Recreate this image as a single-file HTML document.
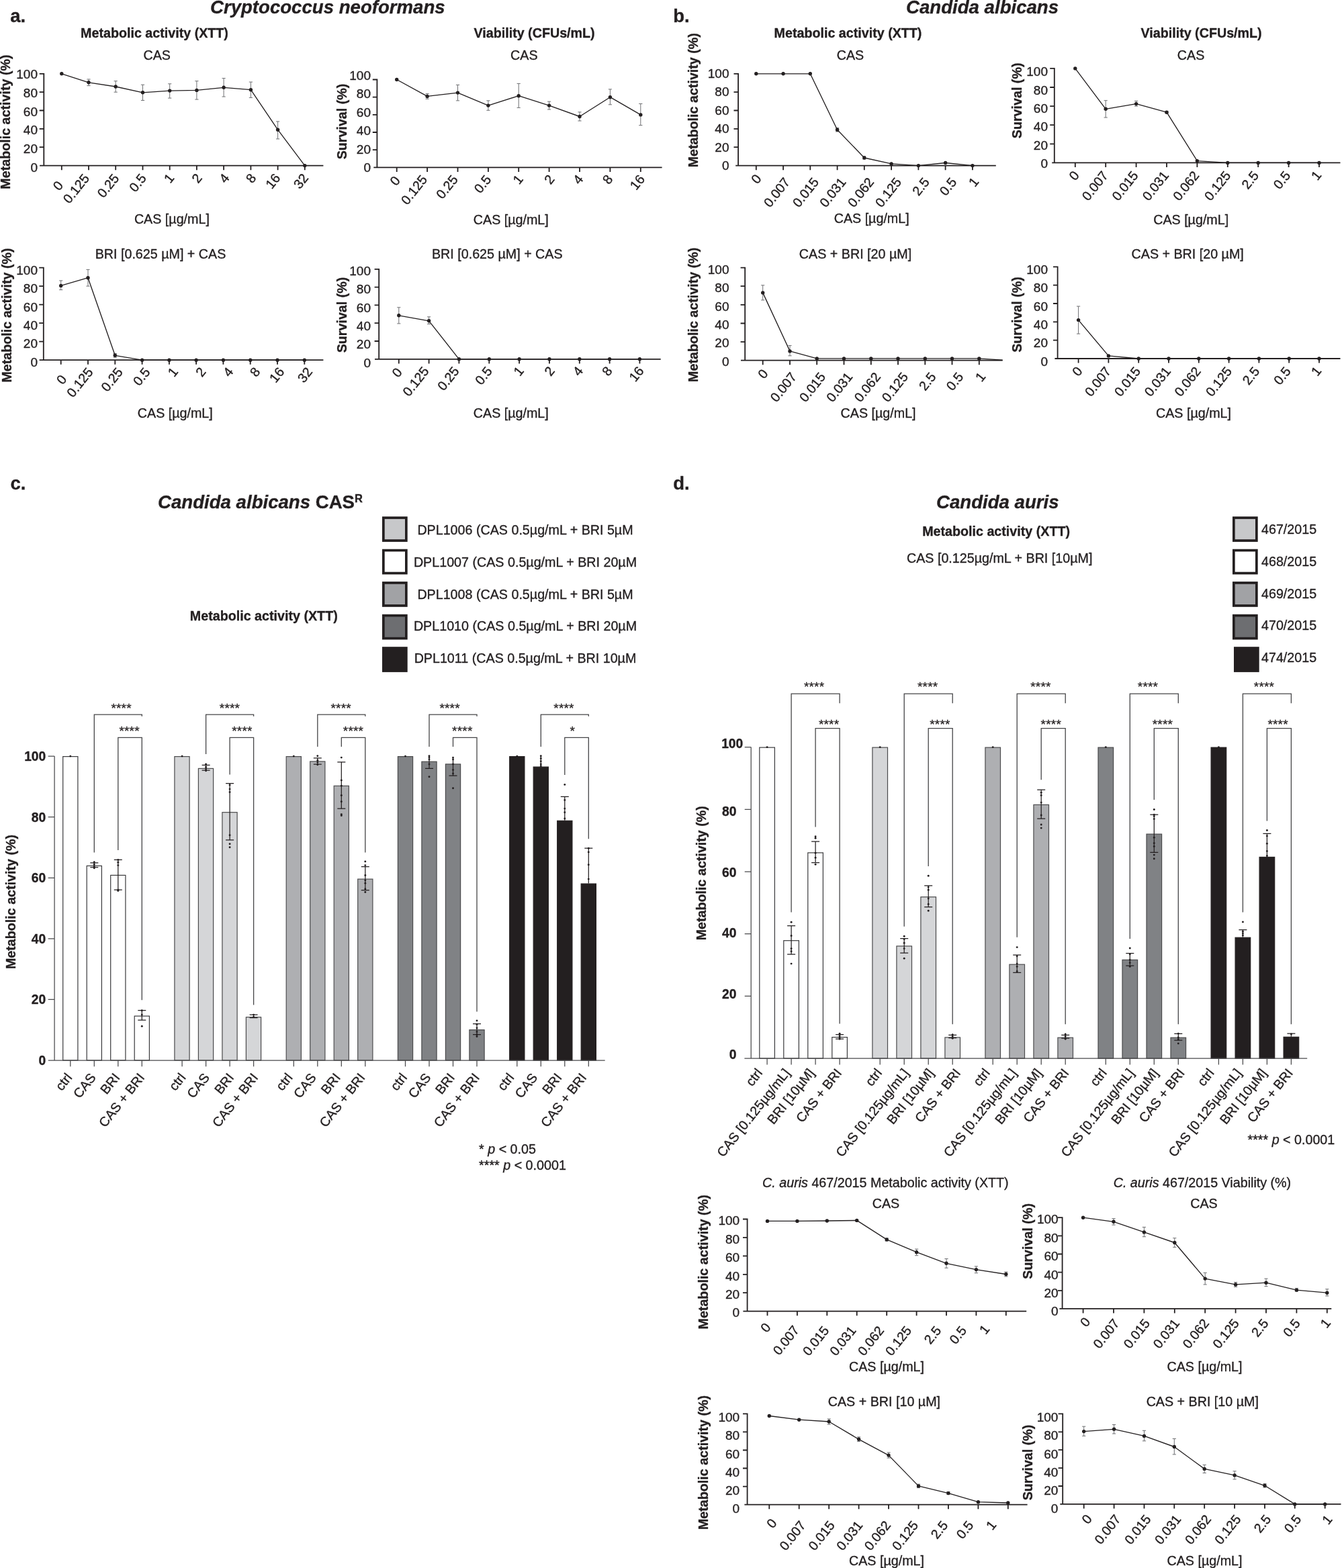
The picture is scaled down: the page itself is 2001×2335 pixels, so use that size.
<!DOCTYPE html>
<html lang="en">
<head>
<meta charset="utf-8">
<title>Figure: caspofungin and brilacidin synergy</title>
<style>
html,body{margin:0;padding:0;background:#fff}
body{width:2001px;height:2335px;overflow:hidden}
svg{display:block}
text{font-family:"Liberation Sans",sans-serif;font-size:19.7px;fill:#231f20;stroke:#231f20;stroke-width:0.35px;stroke-linejoin:round}
circle{fill:#231f20}
.axl{stroke:#231f20;stroke-width:1.8;fill:none}
.dl{stroke:#231f20;stroke-width:1.35;fill:none;stroke-linejoin:round}
.eb{stroke:#6f7073;stroke-width:1;fill:none}
.bax{stroke:#4a4a4c;stroke-width:1.25;fill:none}
.st{font-size:19px;stroke-width:0.3px;letter-spacing:0.2px}
.beb{stroke:#231f20;stroke-width:1.25;fill:none}
.br{stroke:#454547;stroke-width:1.3;fill:none}
</style>
</head>
<body>
<svg width="2001" height="2335" viewBox="0 0 2001 2335" role="img" aria-label="Figure panels a to d">
<rect width="2001" height="2335" fill="#fff"/>
<g id="linecharts">
<path class="eb" d="M132.0 118.0V127.6M129.4 118.0h5.2M129.4 127.6h5.2"/>
<path class="eb" d="M172.2 120.7V137.2M169.6 120.7h5.2M169.6 137.2h5.2"/>
<path class="eb" d="M212.5 126.2V149.5M209.9 126.2h5.2M209.9 149.5h5.2"/>
<path class="eb" d="M252.7 124.8V146.1M250.1 124.8h5.2M250.1 146.1h5.2"/>
<path class="eb" d="M292.9 120.7V148.1M290.3 120.7h5.2M290.3 148.1h5.2"/>
<path class="eb" d="M333.1 116.6V144.0M330.5 116.6h5.2M330.5 144.0h5.2"/>
<path class="eb" d="M373.4 122.1V145.4M370.8 122.1h5.2M370.8 145.4h5.2"/>
<path class="eb" d="M413.6 180.9V206.9M411.0 180.9h5.2M411.0 206.9h5.2"/>
<path class="axl" d="M65.3 108.9V246.6M59.1 246.6H481.4M58.7 219.2H65.3M58.7 191.9H65.3M58.7 164.5H65.3M58.7 137.2H65.3M58.7 109.8H65.3M91.8 246.6v6.6M132.0 246.6v6.6M172.2 246.6v6.6M212.5 246.6v6.6M252.7 246.6v6.6M292.9 246.6v6.6M333.1 246.6v6.6M373.4 246.6v6.6M413.6 246.6v6.6M453.8 246.6v6.6"/>
<path class="dl" d="M91.8 109.8L132.0 122.8L172.2 129.0L212.5 137.8L252.7 135.1L292.9 134.4L333.1 130.3L373.4 133.7L413.6 193.2L453.8 246.6"/>
<circle cx="91.8" cy="109.8" r="2.7"/>
<circle cx="132.0" cy="122.8" r="2.7"/>
<circle cx="172.2" cy="129.0" r="2.7"/>
<circle cx="212.5" cy="137.8" r="2.7"/>
<circle cx="252.7" cy="135.1" r="2.7"/>
<circle cx="292.9" cy="134.4" r="2.7"/>
<circle cx="333.1" cy="130.3" r="2.7"/>
<circle cx="373.4" cy="133.7" r="2.7"/>
<circle cx="413.6" cy="193.2" r="2.7"/>
<circle cx="453.8" cy="246.6" r="2.7"/>
<text x="56.0" y="255.7" text-anchor="end" style="font-size:19.0px">0</text>
<text x="56.0" y="228.0" text-anchor="end" style="font-size:19.0px">20</text>
<text x="56.0" y="200.3" text-anchor="end" style="font-size:19.0px">40</text>
<text x="56.0" y="172.6" text-anchor="end" style="font-size:19.0px">60</text>
<text x="56.0" y="144.9" text-anchor="end" style="font-size:19.0px">80</text>
<text x="56.0" y="117.2" text-anchor="end" style="font-size:19.0px">100</text>
<text transform="translate(95.0,276.5) rotate(-51.5)" text-anchor="end">0</text>
<text transform="translate(134.0,265.8) rotate(-51.5)" text-anchor="end">0.125</text>
<text transform="translate(178.2,265.8) rotate(-51.5)" text-anchor="end">0.25</text>
<text transform="translate(218.9,265.8) rotate(-51.5)" text-anchor="end">0.5</text>
<text transform="translate(260.3,265.4) rotate(-51.5)" text-anchor="end">1</text>
<text transform="translate(301.9,265.4) rotate(-51.5)" text-anchor="end">2</text>
<text transform="translate(342.5,265.4) rotate(-51.5)" text-anchor="end">4</text>
<text transform="translate(382.4,265.4) rotate(-51.5)" text-anchor="end">8</text>
<text transform="translate(418.3,265.4) rotate(-51.5)" text-anchor="end">16</text>
<text transform="translate(460.1,265.4) rotate(-51.5)" text-anchor="end">32</text>
<text x="230.0" y="55.5" text-anchor="middle" font-weight="bold">Metabolic activity (XTT)</text>
<text x="233.7" y="88.7" text-anchor="middle">CAS</text>
<text x="255.9" y="333.3" text-anchor="middle">CAS [µg/mL]</text>
<text transform="translate(15.1,181.6) rotate(-90)" text-anchor="middle" font-weight="bold">Metabolic activity (%)</text>
<path class="eb" d="M636.1 139.4V147.3M633.5 139.4h5.2M633.5 147.3h5.2"/>
<path class="eb" d="M681.5 126.4V149.9M678.9 126.4h5.2M678.9 149.9h5.2"/>
<path class="eb" d="M726.9 149.9V164.3M724.3 149.9h5.2M724.3 164.3h5.2"/>
<path class="eb" d="M772.2 124.4V160.4M769.6 124.4h5.2M769.6 160.4h5.2"/>
<path class="eb" d="M817.6 151.2V163.0M815.0 151.2h5.2M815.0 163.0h5.2"/>
<path class="eb" d="M863.0 166.9V180.0M860.4 166.9h5.2M860.4 180.0h5.2"/>
<path class="eb" d="M908.4 132.9V155.8M905.8 132.9h5.2M905.8 155.8h5.2"/>
<path class="eb" d="M953.8 154.5V186.6M951.2 154.5h5.2M951.2 186.6h5.2"/>
<path class="axl" d="M561.4 117.6V249.4M556.3 249.4H985.6M554.8 223.2H561.4M554.8 197.0H561.4M554.8 170.9H561.4M554.8 144.7H561.4M554.8 118.5H561.4M590.7 249.4v6.6M636.1 249.4v6.6M681.5 249.4v6.6M726.9 249.4v6.6M772.2 249.4v6.6M817.6 249.4v6.6M863.0 249.4v6.6M908.4 249.4v6.6M953.8 249.4v6.6"/>
<path class="dl" d="M590.7 118.5L636.1 143.4L681.5 138.1L726.9 157.1L772.2 142.7L817.6 157.1L863.0 173.5L908.4 144.7L953.8 170.9"/>
<circle cx="590.7" cy="118.5" r="2.7"/>
<circle cx="636.1" cy="143.4" r="2.7"/>
<circle cx="681.5" cy="138.1" r="2.7"/>
<circle cx="726.9" cy="157.1" r="2.7"/>
<circle cx="772.2" cy="142.7" r="2.7"/>
<circle cx="817.6" cy="157.1" r="2.7"/>
<circle cx="863.0" cy="173.5" r="2.7"/>
<circle cx="908.4" cy="144.7" r="2.7"/>
<circle cx="953.8" cy="170.9" r="2.7"/>
<text x="552.0" y="256.0" text-anchor="end" style="font-size:19.0px">0</text>
<text x="552.0" y="228.6" text-anchor="end" style="font-size:19.0px">20</text>
<text x="552.0" y="201.1" text-anchor="end" style="font-size:19.0px">40</text>
<text x="552.0" y="173.7" text-anchor="end" style="font-size:19.0px">60</text>
<text x="552.0" y="146.2" text-anchor="end" style="font-size:19.0px">80</text>
<text x="552.0" y="118.8" text-anchor="end" style="font-size:19.0px">100</text>
<text transform="translate(596.7,269.3) rotate(-51.5)" text-anchor="end">0</text>
<text transform="translate(637.1,267.6) rotate(-51.5)" text-anchor="end">0.125</text>
<text transform="translate(682.7,267.6) rotate(-51.5)" text-anchor="end">0.25</text>
<text transform="translate(732.3,267.6) rotate(-51.5)" text-anchor="end">0.5</text>
<text transform="translate(779.9,267.2) rotate(-51.5)" text-anchor="end">1</text>
<text transform="translate(826.6,267.2) rotate(-51.5)" text-anchor="end">2</text>
<text transform="translate(869.4,267.2) rotate(-51.5)" text-anchor="end">4</text>
<text transform="translate(913.4,267.2) rotate(-51.5)" text-anchor="end">8</text>
<text transform="translate(961.0,267.2) rotate(-51.5)" text-anchor="end">16</text>
<text x="795.6" y="55.5" text-anchor="middle" font-weight="bold">Viability (CFUs/mL)</text>
<text x="780.3" y="88.7" text-anchor="middle">CAS</text>
<text x="760.8" y="333.6" text-anchor="middle">CAS [µg/mL]</text>
<text transform="translate(516.4,181.0) rotate(-90)" text-anchor="middle" font-weight="bold">Survival (%)</text>
<path class="eb" d="M90.7 417.9V431.6M88.1 417.9h5.2M88.1 431.6h5.2"/>
<path class="eb" d="M131.0 401.4V426.1M128.4 401.4h5.2M128.4 426.1h5.2"/>
<path class="eb" d="M171.3 526.6V532.1M168.7 526.6h5.2M168.7 532.1h5.2"/>
<path class="axl" d="M64.8 397.7V536.2M58.6 536.2H481.4M58.2 508.7H64.8M58.2 481.2H64.8M58.2 453.6H64.8M58.2 426.1H64.8M58.2 398.6H64.8M90.7 536.2v6.6M131.0 536.2v6.6M171.3 536.2v6.6M211.6 536.2v6.6M251.9 536.2v6.6M292.1 536.2v6.6M332.4 536.2v6.6M372.7 536.2v6.6M413.0 536.2v6.6M453.3 536.2v6.6"/>
<path class="dl" d="M90.7 425.4L131.0 413.7L171.3 529.3L211.6 536.2L251.9 536.2L292.1 536.2L332.4 536.2L372.7 536.2L413.0 536.2L453.3 536.2"/>
<circle cx="90.7" cy="425.4" r="2.7"/>
<circle cx="131.0" cy="413.7" r="2.7"/>
<circle cx="171.3" cy="529.3" r="2.7"/>
<circle cx="211.6" cy="536.2" r="2.7"/>
<circle cx="251.9" cy="536.2" r="2.7"/>
<circle cx="292.1" cy="536.2" r="2.7"/>
<circle cx="332.4" cy="536.2" r="2.7"/>
<circle cx="372.7" cy="536.2" r="2.7"/>
<circle cx="413.0" cy="536.2" r="2.7"/>
<circle cx="453.3" cy="536.2" r="2.7"/>
<text x="56.0" y="545.6" text-anchor="end" style="font-size:19.0px">0</text>
<text x="56.0" y="518.2" text-anchor="end" style="font-size:19.0px">20</text>
<text x="56.0" y="490.8" text-anchor="end" style="font-size:19.0px">40</text>
<text x="56.0" y="463.5" text-anchor="end" style="font-size:19.0px">60</text>
<text x="56.0" y="436.1" text-anchor="end" style="font-size:19.0px">80</text>
<text x="56.0" y="408.7" text-anchor="end" style="font-size:19.0px">100</text>
<text transform="translate(100.4,565.1) rotate(-51.5)" text-anchor="end">0</text>
<text transform="translate(139.5,554.4) rotate(-51.5)" text-anchor="end">0.125</text>
<text transform="translate(183.8,554.4) rotate(-51.5)" text-anchor="end">0.25</text>
<text transform="translate(224.5,554.4) rotate(-51.5)" text-anchor="end">0.5</text>
<text transform="translate(266.0,554.0) rotate(-51.5)" text-anchor="end">1</text>
<text transform="translate(307.6,554.0) rotate(-51.5)" text-anchor="end">2</text>
<text transform="translate(348.3,554.0) rotate(-51.5)" text-anchor="end">4</text>
<text transform="translate(388.2,554.0) rotate(-51.5)" text-anchor="end">8</text>
<text transform="translate(424.2,554.0) rotate(-51.5)" text-anchor="end">16</text>
<text transform="translate(466.1,554.0) rotate(-51.5)" text-anchor="end">32</text>
<text x="239.0" y="384.5" text-anchor="middle">BRI [0.625 µM] + CAS</text>
<text x="260.8" y="621.5" text-anchor="middle">CAS [µg/mL]</text>
<text transform="translate(16.5,469.5) rotate(-90)" text-anchor="middle" font-weight="bold">Metabolic activity (%)</text>
<path class="eb" d="M593.8 457.8V481.9M591.2 457.8h5.2M591.2 481.9h5.2"/>
<path class="eb" d="M638.6 471.8V482.5M636.0 471.8h5.2M636.0 482.5h5.2"/>
<path class="axl" d="M564.2 399.9V534.8M558.0 534.8H983.7M557.6 508.0H564.2M557.6 481.2H564.2M557.6 454.4H564.2M557.6 427.6H564.2M557.6 400.8H564.2M593.8 534.8v6.6M638.6 534.8v6.6M683.4 534.8v6.6M728.3 534.8v6.6M773.1 534.8v6.6M817.9 534.8v6.6M862.8 534.8v6.6M907.6 534.8v6.6M952.4 534.8v6.6"/>
<path class="dl" d="M593.8 469.8L638.6 477.8L683.4 534.8L728.3 534.8L773.1 534.8L817.9 534.8L862.8 534.8L907.6 534.8L952.4 534.8"/>
<circle cx="593.8" cy="469.8" r="2.7"/>
<circle cx="638.6" cy="477.8" r="2.7"/>
<circle cx="683.4" cy="534.8" r="2.7"/>
<circle cx="728.3" cy="534.8" r="2.7"/>
<circle cx="773.1" cy="534.8" r="2.7"/>
<circle cx="817.9" cy="534.8" r="2.7"/>
<circle cx="862.8" cy="534.8" r="2.7"/>
<circle cx="907.6" cy="534.8" r="2.7"/>
<circle cx="952.4" cy="534.8" r="2.7"/>
<text x="552.0" y="546.7" text-anchor="end" style="font-size:19.0px">0</text>
<text x="552.0" y="519.4" text-anchor="end" style="font-size:19.0px">20</text>
<text x="552.0" y="492.1" text-anchor="end" style="font-size:19.0px">40</text>
<text x="552.0" y="464.7" text-anchor="end" style="font-size:19.0px">60</text>
<text x="552.0" y="437.4" text-anchor="end" style="font-size:19.0px">80</text>
<text x="552.0" y="410.1" text-anchor="end" style="font-size:19.0px">100</text>
<text transform="translate(599.8,554.7) rotate(-51.5)" text-anchor="end">0</text>
<text transform="translate(639.6,553.0) rotate(-51.5)" text-anchor="end">0.125</text>
<text transform="translate(684.6,553.0) rotate(-51.5)" text-anchor="end">0.25</text>
<text transform="translate(733.7,553.0) rotate(-51.5)" text-anchor="end">0.5</text>
<text transform="translate(780.7,552.6) rotate(-51.5)" text-anchor="end">1</text>
<text transform="translate(826.9,552.6) rotate(-51.5)" text-anchor="end">2</text>
<text transform="translate(869.1,552.6) rotate(-51.5)" text-anchor="end">4</text>
<text transform="translate(912.6,552.6) rotate(-51.5)" text-anchor="end">8</text>
<text transform="translate(959.6,552.6) rotate(-51.5)" text-anchor="end">16</text>
<text x="740.3" y="384.5" text-anchor="middle">BRI [0.625 µM] + CAS</text>
<text x="760.8" y="621.5" text-anchor="middle">CAS [µg/mL]</text>
<text transform="translate(516.4,469.0) rotate(-90)" text-anchor="middle" font-weight="bold">Survival (%)</text>
<path class="eb" d="M1246.6 190.5V196.0M1244.0 190.5h5.2M1244.0 196.0h5.2"/>
<path class="eb" d="M1286.8 232.9V237.0M1284.2 232.9h5.2M1284.2 237.0h5.2"/>
<path class="axl" d="M1099.1 108.9V246.6M1095.2 246.6H1482.8M1092.5 219.2H1099.1M1092.5 191.9H1099.1M1092.5 164.5H1099.1M1092.5 137.2H1099.1M1092.5 109.8H1099.1M1125.8 246.6v6.6M1166.1 246.6v6.6M1206.3 246.6v6.6M1246.6 246.6v6.6M1286.8 246.6v6.6M1327.1 246.6v6.6M1367.4 246.6v6.6M1407.6 246.6v6.6M1447.9 246.6v6.6"/>
<path class="dl" d="M1125.8 109.8L1166.1 109.8L1206.3 109.8L1246.6 193.2L1286.8 235.0L1327.1 243.9L1367.4 246.6L1407.6 242.5L1447.9 246.6"/>
<circle cx="1125.8" cy="109.8" r="2.7"/>
<circle cx="1166.1" cy="109.8" r="2.7"/>
<circle cx="1206.3" cy="109.8" r="2.7"/>
<circle cx="1246.6" cy="193.2" r="2.7"/>
<circle cx="1286.8" cy="235.0" r="2.7"/>
<circle cx="1327.1" cy="243.9" r="2.7"/>
<circle cx="1367.4" cy="246.6" r="2.7"/>
<circle cx="1407.6" cy="242.5" r="2.7"/>
<circle cx="1447.9" cy="246.6" r="2.7"/>
<text x="1085.5" y="253.4" text-anchor="end" style="font-size:19.0px">0</text>
<text x="1085.5" y="225.9" text-anchor="end" style="font-size:19.0px">20</text>
<text x="1085.5" y="198.4" text-anchor="end" style="font-size:19.0px">40</text>
<text x="1085.5" y="170.8" text-anchor="end" style="font-size:19.0px">60</text>
<text x="1085.5" y="143.3" text-anchor="end" style="font-size:19.0px">80</text>
<text x="1085.5" y="115.8" text-anchor="end" style="font-size:19.0px">100</text>
<text transform="translate(1134.6,266.5) rotate(-51.5)" text-anchor="end">0</text>
<text transform="translate(1177.1,271.4) rotate(-51.5)" text-anchor="end">0.007</text>
<text transform="translate(1220.2,271.4) rotate(-51.5)" text-anchor="end">0.015</text>
<text transform="translate(1260.5,271.4) rotate(-51.5)" text-anchor="end">0.031</text>
<text transform="translate(1302.1,271.4) rotate(-51.5)" text-anchor="end">0.062</text>
<text transform="translate(1343.1,271.4) rotate(-51.5)" text-anchor="end">0.125</text>
<text transform="translate(1384.7,271.4) rotate(-51.5)" text-anchor="end">2.5</text>
<text transform="translate(1425.3,271.4) rotate(-51.5)" text-anchor="end">0.5</text>
<text transform="translate(1458.3,271.0) rotate(-51.5)" text-anchor="end">1</text>
<text x="1262.5" y="55.5" text-anchor="middle" font-weight="bold">Metabolic activity (XTT)</text>
<text x="1266.0" y="88.7" text-anchor="middle">CAS</text>
<text x="1297.7" y="332.2" text-anchor="middle">CAS [µg/mL]</text>
<text transform="translate(1038.9,149.2) rotate(-90)" text-anchor="middle" font-weight="bold">Metabolic activity (%)</text>
<path class="eb" d="M1646.2 149.7V175.0M1643.6 149.7h5.2M1643.6 175.0h5.2"/>
<path class="eb" d="M1691.6 150.4V158.1M1689.0 150.4h5.2M1689.0 158.1h5.2"/>
<path class="eb" d="M1737.0 165.8V168.6M1734.4 165.8h5.2M1734.4 168.6h5.2"/>
<path class="axl" d="M1569.8 101.0V242.4M1566.2 242.4H1995.5M1563.2 214.3H1569.8M1563.2 186.2H1569.8M1563.2 158.1H1569.8M1563.2 130.0H1569.8M1563.2 101.9H1569.8M1600.8 242.4v6.6M1646.2 242.4v6.6M1691.6 242.4v6.6M1737.0 242.4v6.6M1782.4 242.4v6.6M1827.8 242.4v6.6M1873.2 242.4v6.6M1918.6 242.4v6.6M1964.0 242.4v6.6"/>
<path class="dl" d="M1600.8 101.9L1646.2 162.3L1691.6 154.6L1737.0 167.2L1782.4 239.6L1827.8 242.4L1873.2 242.4L1918.6 242.4L1964.0 242.4"/>
<circle cx="1600.8" cy="101.9" r="2.7"/>
<circle cx="1646.2" cy="162.3" r="2.7"/>
<circle cx="1691.6" cy="154.6" r="2.7"/>
<circle cx="1737.0" cy="167.2" r="2.7"/>
<circle cx="1782.4" cy="239.6" r="2.7"/>
<circle cx="1827.8" cy="242.4" r="2.7"/>
<circle cx="1873.2" cy="242.4" r="2.7"/>
<circle cx="1918.6" cy="242.4" r="2.7"/>
<circle cx="1964.0" cy="242.4" r="2.7"/>
<text x="1560.0" y="250.0" text-anchor="end" style="font-size:19.0px">0</text>
<text x="1560.0" y="222.6" text-anchor="end" style="font-size:19.0px">20</text>
<text x="1560.0" y="195.3" text-anchor="end" style="font-size:19.0px">40</text>
<text x="1560.0" y="167.9" text-anchor="end" style="font-size:19.0px">60</text>
<text x="1560.0" y="140.6" text-anchor="end" style="font-size:19.0px">80</text>
<text x="1560.0" y="113.2" text-anchor="end" style="font-size:19.0px">100</text>
<text transform="translate(1607.8,261.4) rotate(-51.5)" text-anchor="end">0</text>
<text transform="translate(1650.9,261.6) rotate(-51.5)" text-anchor="end">0.007</text>
<text transform="translate(1695.6,261.6) rotate(-51.5)" text-anchor="end">0.015</text>
<text transform="translate(1741.0,261.6) rotate(-51.5)" text-anchor="end">0.031</text>
<text transform="translate(1786.4,261.6) rotate(-51.5)" text-anchor="end">0.062</text>
<text transform="translate(1833.3,261.6) rotate(-51.5)" text-anchor="end">0.125</text>
<text transform="translate(1875.0,261.6) rotate(-51.5)" text-anchor="end">2.5</text>
<text transform="translate(1922.2,261.6) rotate(-51.5)" text-anchor="end">0.5</text>
<text transform="translate(1968.4,261.2) rotate(-51.5)" text-anchor="end">1</text>
<text x="1788.6" y="55.5" text-anchor="middle" font-weight="bold">Viability (CFUs/mL)</text>
<text x="1773.1" y="88.7" text-anchor="middle">CAS</text>
<text x="1773.2" y="333.6" text-anchor="middle">CAS [µg/mL]</text>
<text transform="translate(1521.3,149.9) rotate(-90)" text-anchor="middle" font-weight="bold">Survival (%)</text>
<path class="eb" d="M1135.7 424.8V446.9M1133.1 424.8h5.2M1133.1 446.9h5.2"/>
<path class="eb" d="M1176.0 514.6V529.8M1173.4 514.6h5.2M1173.4 529.8h5.2"/>
<path class="axl" d="M1109.2 397.7V536.7M1103.0 536.7H1492.7M1102.6 509.1H1109.2M1102.6 481.5H1109.2M1102.6 453.8H1109.2M1102.6 426.2H1109.2M1102.6 398.6H1109.2M1135.7 536.7v6.6M1176.0 536.7v6.6M1216.2 536.7v6.6M1256.5 536.7v6.6M1296.8 536.7v6.6M1337.0 536.7v6.6M1377.3 536.7v6.6M1417.5 536.7v6.6M1457.8 536.7v6.6"/>
<path class="dl" d="M1135.7 435.9L1176.0 522.9L1216.2 533.9L1256.5 533.9L1296.8 533.9L1337.0 533.9L1377.3 533.9L1417.5 533.9L1457.8 533.9L1492.7 536.2"/>
<circle cx="1135.7" cy="435.9" r="2.7"/>
<circle cx="1176.0" cy="522.9" r="2.7"/>
<circle cx="1216.2" cy="533.9" r="2.7"/>
<circle cx="1256.5" cy="533.9" r="2.7"/>
<circle cx="1296.8" cy="533.9" r="2.7"/>
<circle cx="1337.0" cy="533.9" r="2.7"/>
<circle cx="1377.3" cy="533.9" r="2.7"/>
<circle cx="1417.5" cy="533.9" r="2.7"/>
<circle cx="1457.8" cy="533.9" r="2.7"/>
<text x="1085.5" y="544.7" text-anchor="end" style="font-size:19.0px">0</text>
<text x="1085.5" y="517.3" text-anchor="end" style="font-size:19.0px">20</text>
<text x="1085.5" y="490.0" text-anchor="end" style="font-size:19.0px">40</text>
<text x="1085.5" y="462.6" text-anchor="end" style="font-size:19.0px">60</text>
<text x="1085.5" y="435.3" text-anchor="end" style="font-size:19.0px">80</text>
<text x="1085.5" y="407.9" text-anchor="end" style="font-size:19.0px">100</text>
<text transform="translate(1144.5,556.6) rotate(-51.5)" text-anchor="end">0</text>
<text transform="translate(1187.0,561.5) rotate(-51.5)" text-anchor="end">0.007</text>
<text transform="translate(1230.1,561.5) rotate(-51.5)" text-anchor="end">0.015</text>
<text transform="translate(1270.4,561.5) rotate(-51.5)" text-anchor="end">0.031</text>
<text transform="translate(1312.0,561.5) rotate(-51.5)" text-anchor="end">0.062</text>
<text transform="translate(1353.0,561.5) rotate(-51.5)" text-anchor="end">0.125</text>
<text transform="translate(1394.6,561.5) rotate(-51.5)" text-anchor="end">2.5</text>
<text transform="translate(1435.2,561.5) rotate(-51.5)" text-anchor="end">0.5</text>
<text transform="translate(1468.2,561.1) rotate(-51.5)" text-anchor="end">1</text>
<text x="1273.5" y="384.5" text-anchor="middle">CAS + BRI [20 µM]</text>
<text x="1307.6" y="621.5" text-anchor="middle">CAS [µg/mL]</text>
<text transform="translate(1038.9,468.8) rotate(-90)" text-anchor="middle" font-weight="bold">Metabolic activity (%)</text>
<path class="eb" d="M1605.6 456.1V497.1M1603.0 456.1h5.2M1603.0 497.1h5.2"/>
<path class="axl" d="M1574.6 396.5V534.0M1570.4 534.0H1995.5M1568.0 506.7H1574.6M1568.0 479.4H1574.6M1568.0 452.0H1574.6M1568.0 424.7H1574.6M1568.0 397.4H1574.6M1605.6 534.0v6.6M1650.4 534.0v6.6M1695.2 534.0v6.6M1740.0 534.0v6.6M1784.8 534.0v6.6M1829.6 534.0v6.6M1874.4 534.0v6.6M1919.2 534.0v6.6M1964.0 534.0v6.6"/>
<path class="dl" d="M1605.6 476.6L1650.4 529.9L1695.2 534.0L1740.0 534.0L1784.8 534.0L1829.6 534.0L1874.4 534.0L1919.2 534.0L1964.0 534.0"/>
<circle cx="1605.6" cy="476.6" r="2.7"/>
<circle cx="1650.4" cy="529.9" r="2.7"/>
<circle cx="1695.2" cy="534.0" r="2.7"/>
<circle cx="1740.0" cy="534.0" r="2.7"/>
<circle cx="1784.8" cy="534.0" r="2.7"/>
<circle cx="1829.6" cy="534.0" r="2.7"/>
<circle cx="1874.4" cy="534.0" r="2.7"/>
<circle cx="1919.2" cy="534.0" r="2.7"/>
<circle cx="1964.0" cy="534.0" r="2.7"/>
<text x="1560.0" y="544.7" text-anchor="end" style="font-size:19.0px">0</text>
<text x="1560.0" y="517.3" text-anchor="end" style="font-size:19.0px">20</text>
<text x="1560.0" y="490.0" text-anchor="end" style="font-size:19.0px">40</text>
<text x="1560.0" y="462.6" text-anchor="end" style="font-size:19.0px">60</text>
<text x="1560.0" y="435.3" text-anchor="end" style="font-size:19.0px">80</text>
<text x="1560.0" y="407.9" text-anchor="end" style="font-size:19.0px">100</text>
<text transform="translate(1612.6,553.0) rotate(-51.5)" text-anchor="end">0</text>
<text transform="translate(1655.1,553.2) rotate(-51.5)" text-anchor="end">0.007</text>
<text transform="translate(1699.2,553.2) rotate(-51.5)" text-anchor="end">0.015</text>
<text transform="translate(1744.0,553.2) rotate(-51.5)" text-anchor="end">0.031</text>
<text transform="translate(1788.8,553.2) rotate(-51.5)" text-anchor="end">0.062</text>
<text transform="translate(1835.1,553.2) rotate(-51.5)" text-anchor="end">0.125</text>
<text transform="translate(1876.2,553.2) rotate(-51.5)" text-anchor="end">2.5</text>
<text transform="translate(1922.8,553.2) rotate(-51.5)" text-anchor="end">0.5</text>
<text transform="translate(1968.4,552.8) rotate(-51.5)" text-anchor="end">1</text>
<text x="1768.2" y="384.5" text-anchor="middle">CAS + BRI [20 µM]</text>
<text x="1777.0" y="621.5" text-anchor="middle">CAS [µg/mL]</text>
<text transform="translate(1521.3,468.5) rotate(-90)" text-anchor="middle" font-weight="bold">Survival (%)</text>
<path class="eb" d="M1320.2 1843.9V1848.0M1317.6 1843.9h5.2M1317.6 1848.0h5.2"/>
<path class="eb" d="M1364.6 1860.1V1869.7M1362.0 1860.1h5.2M1362.0 1869.7h5.2"/>
<path class="eb" d="M1409.0 1874.5V1888.2M1406.4 1874.5h5.2M1406.4 1888.2h5.2"/>
<path class="eb" d="M1453.4 1885.8V1895.7M1450.8 1885.8h5.2M1450.8 1895.7h5.2"/>
<path class="eb" d="M1497.8 1894.1V1900.9M1495.2 1894.1h5.2M1495.2 1900.9h5.2"/>
<path class="axl" d="M1112.6 1814.6V1952.6M1106.4 1952.6H1528.2M1106.0 1925.2H1112.6M1106.0 1897.8H1112.6M1106.0 1870.3H1112.6M1106.0 1842.9H1112.6M1106.0 1815.5H1112.6M1142.5 1952.6v6.6M1186.9 1952.6v6.6M1231.3 1952.6v6.6M1275.7 1952.6v6.6M1320.2 1952.6v6.6M1364.6 1952.6v6.6M1409.0 1952.6v6.6M1453.4 1952.6v6.6M1497.8 1952.6v6.6"/>
<path class="dl" d="M1142.5 1818.4L1186.9 1818.4L1231.3 1818.0L1275.7 1817.4L1320.2 1845.9L1364.6 1864.7L1409.0 1881.3L1453.4 1890.6L1497.8 1897.5"/>
<circle cx="1142.5" cy="1818.4" r="2.7"/>
<circle cx="1186.9" cy="1818.4" r="2.7"/>
<circle cx="1231.3" cy="1818.0" r="2.7"/>
<circle cx="1275.7" cy="1817.4" r="2.7"/>
<circle cx="1320.2" cy="1845.9" r="2.7"/>
<circle cx="1364.6" cy="1864.7" r="2.7"/>
<circle cx="1409.0" cy="1881.3" r="2.7"/>
<circle cx="1453.4" cy="1890.6" r="2.7"/>
<circle cx="1497.8" cy="1897.5" r="2.7"/>
<text x="1101.1" y="1961.3" text-anchor="end" style="font-size:19.0px">0</text>
<text x="1101.1" y="1933.9" text-anchor="end" style="font-size:19.0px">20</text>
<text x="1101.1" y="1906.5" text-anchor="end" style="font-size:19.0px">40</text>
<text x="1101.1" y="1879.0" text-anchor="end" style="font-size:19.0px">60</text>
<text x="1101.1" y="1851.6" text-anchor="end" style="font-size:19.0px">80</text>
<text x="1101.1" y="1824.2" text-anchor="end" style="font-size:19.0px">100</text>
<text transform="translate(1148.5,1976.9) rotate(-51.5)" text-anchor="end">0</text>
<text transform="translate(1190.9,1980.8) rotate(-51.5)" text-anchor="end">0.007</text>
<text transform="translate(1235.3,1981.6) rotate(-51.5)" text-anchor="end">0.015</text>
<text transform="translate(1275.5,1981.6) rotate(-51.5)" text-anchor="end">0.031</text>
<text transform="translate(1317.2,1981.6) rotate(-51.5)" text-anchor="end">0.062</text>
<text transform="translate(1358.2,1981.6) rotate(-51.5)" text-anchor="end">0.125</text>
<text transform="translate(1402.4,1981.6) rotate(-51.5)" text-anchor="end">2.5</text>
<text transform="translate(1440.1,1981.6) rotate(-51.5)" text-anchor="end">0.5</text>
<text transform="translate(1474.4,1979.8) rotate(-51.5)" text-anchor="end">1</text>
<text x="1135.1" y="1768.3"><tspan font-style="italic">C. auris</tspan> 467/2015 Metabolic activity (XTT)</text>
<text x="1319.0" y="1798.7" text-anchor="middle">CAS</text>
<text x="1320.0" y="2041.8" text-anchor="middle">CAS [µg/mL]</text>
<text transform="translate(1053.5,1879.4) rotate(-90)" text-anchor="middle" font-weight="bold">Metabolic activity (%)</text>
<path class="eb" d="M1658.0 1814.6V1824.1M1655.4 1814.6h5.2M1655.4 1824.1h5.2"/>
<path class="eb" d="M1703.4 1827.4V1841.7M1700.8 1827.4h5.2M1700.8 1841.7h5.2"/>
<path class="eb" d="M1748.8 1843.7V1857.3M1746.2 1843.7h5.2M1746.2 1857.3h5.2"/>
<path class="eb" d="M1794.2 1895.3V1912.9M1791.6 1895.3h5.2M1791.6 1912.9h5.2"/>
<path class="eb" d="M1839.6 1909.5V1916.3M1837.0 1909.5h5.2M1837.0 1916.3h5.2"/>
<path class="eb" d="M1885.0 1904.1V1915.7M1882.4 1904.1h5.2M1882.4 1915.7h5.2"/>
<path class="eb" d="M1930.4 1918.4V1923.1M1927.8 1918.4h5.2M1927.8 1923.1h5.2"/>
<path class="eb" d="M1975.8 1919.7V1929.9M1973.2 1919.7h5.2M1973.2 1929.9h5.2"/>
<path class="axl" d="M1581.6 1812.3V1948.9M1577.4 1948.9H1982.3M1575.0 1921.8H1581.6M1575.0 1894.6H1581.6M1575.0 1867.5H1581.6M1575.0 1840.3H1581.6M1575.0 1813.2H1581.6M1612.6 1948.9v6.6M1658.0 1948.9v6.6M1703.4 1948.9v6.6M1748.8 1948.9v6.6M1794.2 1948.9v6.6M1839.6 1948.9v6.6M1885.0 1948.9v6.6M1930.4 1948.9v6.6M1975.8 1948.9v6.6"/>
<path class="dl" d="M1612.6 1813.2L1658.0 1819.3L1703.4 1834.9L1748.8 1850.5L1794.2 1904.1L1839.6 1912.9L1885.0 1910.2L1930.4 1921.1L1975.8 1925.2"/>
<circle cx="1612.6" cy="1813.2" r="2.7"/>
<circle cx="1658.0" cy="1819.3" r="2.7"/>
<circle cx="1703.4" cy="1834.9" r="2.7"/>
<circle cx="1748.8" cy="1850.5" r="2.7"/>
<circle cx="1794.2" cy="1904.1" r="2.7"/>
<circle cx="1839.6" cy="1912.9" r="2.7"/>
<circle cx="1885.0" cy="1910.2" r="2.7"/>
<circle cx="1930.4" cy="1921.1" r="2.7"/>
<circle cx="1975.8" cy="1925.2" r="2.7"/>
<text x="1575.6" y="1959.4" text-anchor="end" style="font-size:19.0px">0</text>
<text x="1575.6" y="1932.0" text-anchor="end" style="font-size:19.0px">20</text>
<text x="1575.6" y="1904.6" text-anchor="end" style="font-size:19.0px">40</text>
<text x="1575.6" y="1877.1" text-anchor="end" style="font-size:19.0px">60</text>
<text x="1575.6" y="1849.7" text-anchor="end" style="font-size:19.0px">80</text>
<text x="1575.6" y="1822.3" text-anchor="end" style="font-size:19.0px">100</text>
<text transform="translate(1624.2,1968.8) rotate(-51.5)" text-anchor="end">0</text>
<text transform="translate(1667.6,1970.9) rotate(-51.5)" text-anchor="end">0.007</text>
<text transform="translate(1713.0,1970.9) rotate(-51.5)" text-anchor="end">0.015</text>
<text transform="translate(1757.0,1970.9) rotate(-51.5)" text-anchor="end">0.031</text>
<text transform="translate(1801.0,1970.9) rotate(-51.5)" text-anchor="end">0.062</text>
<text transform="translate(1845.8,1970.9) rotate(-51.5)" text-anchor="end">0.125</text>
<text transform="translate(1889.6,1970.9) rotate(-51.5)" text-anchor="end">2.5</text>
<text transform="translate(1936.8,1970.9) rotate(-51.5)" text-anchor="end">0.5</text>
<text transform="translate(1982.0,1970.5) rotate(-51.5)" text-anchor="end">1</text>
<text x="1657.7" y="1768.3"><tspan font-style="italic">C. auris</tspan> 467/2015 Viability (%)</text>
<text x="1792.5" y="1798.7" text-anchor="middle">CAS</text>
<text x="1793.5" y="2041.8" text-anchor="middle">CAS [µg/mL]</text>
<text transform="translate(1536.8,1848.4) rotate(-90)" text-anchor="middle" font-weight="bold">Survival (%)</text>
<path class="eb" d="M1234.2 2113.0V2121.1M1231.6 2113.0h5.2M1231.6 2121.1h5.2"/>
<path class="eb" d="M1278.6 2139.9V2146.6M1276.0 2139.9h5.2M1276.0 2146.6h5.2"/>
<path class="eb" d="M1323.0 2163.0V2171.1M1320.5 2163.0h5.2M1320.5 2171.1h5.2"/>
<path class="eb" d="M1367.5 2210.2V2215.6M1364.9 2210.2h5.2M1364.9 2215.6h5.2"/>
<path class="eb" d="M1411.9 2221.5V2225.6M1409.3 2221.5h5.2M1409.3 2225.6h5.2"/>
<path class="axl" d="M1112.6 2104.5V2240.6M1108.4 2240.6H1529.6M1106.0 2213.6H1112.6M1106.0 2186.5H1112.6M1106.0 2159.5H1112.6M1106.0 2132.4H1112.6M1106.0 2105.4H1112.6M1145.3 2240.6v6.6M1189.7 2240.6v6.6M1234.2 2240.6v6.6M1278.6 2240.6v6.6M1323.0 2240.6v6.6M1367.5 2240.6v6.6M1411.9 2240.6v6.6M1456.4 2240.6v6.6M1500.8 2240.6v6.6"/>
<path class="dl" d="M1145.3 2108.5L1189.7 2114.2L1234.2 2117.0L1278.6 2143.3L1323.0 2167.1L1367.5 2212.9L1411.9 2223.6L1456.4 2236.7L1500.8 2238.0"/>
<circle cx="1145.3" cy="2108.5" r="2.7"/>
<circle cx="1189.7" cy="2114.2" r="2.7"/>
<circle cx="1234.2" cy="2117.0" r="2.7"/>
<circle cx="1278.6" cy="2143.3" r="2.7"/>
<circle cx="1323.0" cy="2167.1" r="2.7"/>
<circle cx="1367.5" cy="2212.9" r="2.7"/>
<circle cx="1411.9" cy="2223.6" r="2.7"/>
<circle cx="1456.4" cy="2236.7" r="2.7"/>
<circle cx="1500.8" cy="2238.0" r="2.7"/>
<text x="1101.1" y="2253.2" text-anchor="end" style="font-size:19.0px">0</text>
<text x="1101.1" y="2226.0" text-anchor="end" style="font-size:19.0px">20</text>
<text x="1101.1" y="2198.8" text-anchor="end" style="font-size:19.0px">40</text>
<text x="1101.1" y="2171.6" text-anchor="end" style="font-size:19.0px">60</text>
<text x="1101.1" y="2144.4" text-anchor="end" style="font-size:19.0px">80</text>
<text x="1101.1" y="2117.2" text-anchor="end" style="font-size:19.0px">100</text>
<text transform="translate(1157.5,2268.4) rotate(-51.5)" text-anchor="end">0</text>
<text transform="translate(1200.7,2271.7) rotate(-51.5)" text-anchor="end">0.007</text>
<text transform="translate(1243.8,2271.7) rotate(-51.5)" text-anchor="end">0.015</text>
<text transform="translate(1285.4,2271.7) rotate(-51.5)" text-anchor="end">0.031</text>
<text transform="translate(1327.0,2271.7) rotate(-51.5)" text-anchor="end">0.062</text>
<text transform="translate(1368.1,2271.7) rotate(-51.5)" text-anchor="end">0.125</text>
<text transform="translate(1412.3,2271.7) rotate(-51.5)" text-anchor="end">2.5</text>
<text transform="translate(1450.2,2271.7) rotate(-51.5)" text-anchor="end">0.5</text>
<text transform="translate(1484.4,2271.3) rotate(-51.5)" text-anchor="end">1</text>
<text x="1316.4" y="2094.1" text-anchor="middle">CAS + BRI [10 µM]</text>
<text x="1320.0" y="2331.4" text-anchor="middle">CAS [µg/mL]</text>
<text transform="translate(1053.5,2178.0) rotate(-90)" text-anchor="middle" font-weight="bold">Metabolic activity (%)</text>
<path class="eb" d="M1613.7 2124.2V2138.4M1611.1 2124.2h5.2M1611.1 2138.4h5.2"/>
<path class="eb" d="M1658.6 2121.5V2135.0M1656.0 2121.5h5.2M1656.0 2135.0h5.2"/>
<path class="eb" d="M1703.5 2130.3V2145.8M1700.9 2130.3h5.2M1700.9 2145.8h5.2"/>
<path class="eb" d="M1748.3 2142.4V2165.9M1745.7 2142.4h5.2M1745.7 2165.9h5.2"/>
<path class="eb" d="M1793.2 2181.4V2193.5M1790.6 2181.4h5.2M1790.6 2193.5h5.2"/>
<path class="eb" d="M1838.1 2190.8V2202.9M1835.5 2190.8h5.2M1835.5 2202.9h5.2"/>
<path class="eb" d="M1883.0 2209.6V2215.0M1880.4 2209.6h5.2M1880.4 2215.0h5.2"/>
<path class="axl" d="M1582.2 2104.5V2239.9M1578.3 2239.9H1996.5M1575.6 2213.0H1582.2M1575.6 2186.1H1582.2M1575.6 2159.2H1582.2M1575.6 2132.3H1582.2M1575.6 2105.4H1582.2M1613.7 2239.9v6.6M1658.6 2239.9v6.6M1703.5 2239.9v6.6M1748.3 2239.9v6.6M1793.2 2239.9v6.6M1838.1 2239.9v6.6M1883.0 2239.9v6.6M1927.8 2239.9v6.6M1972.7 2239.9v6.6"/>
<path class="dl" d="M1613.7 2131.6L1658.6 2128.3L1703.5 2138.4L1748.3 2154.5L1793.2 2187.4L1838.1 2196.9L1883.0 2212.3L1927.8 2239.9L1972.7 2239.9"/>
<circle cx="1613.7" cy="2131.6" r="2.7"/>
<circle cx="1658.6" cy="2128.3" r="2.7"/>
<circle cx="1703.5" cy="2138.4" r="2.7"/>
<circle cx="1748.3" cy="2154.5" r="2.7"/>
<circle cx="1793.2" cy="2187.4" r="2.7"/>
<circle cx="1838.1" cy="2196.9" r="2.7"/>
<circle cx="1883.0" cy="2212.3" r="2.7"/>
<circle cx="1927.8" cy="2239.9" r="2.7"/>
<circle cx="1972.7" cy="2239.9" r="2.7"/>
<text x="1575.4" y="2253.2" text-anchor="end" style="font-size:19.0px">0</text>
<text x="1575.4" y="2226.0" text-anchor="end" style="font-size:19.0px">20</text>
<text x="1575.4" y="2198.8" text-anchor="end" style="font-size:19.0px">40</text>
<text x="1575.4" y="2171.6" text-anchor="end" style="font-size:19.0px">60</text>
<text x="1575.4" y="2144.4" text-anchor="end" style="font-size:19.0px">80</text>
<text x="1575.4" y="2117.2" text-anchor="end" style="font-size:19.0px">100</text>
<text transform="translate(1626.7,2262.1) rotate(-51.5)" text-anchor="end">0</text>
<text transform="translate(1669.6,2262.4) rotate(-51.5)" text-anchor="end">0.007</text>
<text transform="translate(1714.5,2262.6) rotate(-51.5)" text-anchor="end">0.015</text>
<text transform="translate(1759.3,2262.6) rotate(-51.5)" text-anchor="end">0.031</text>
<text transform="translate(1804.2,2262.6) rotate(-51.5)" text-anchor="end">0.062</text>
<text transform="translate(1848.5,2262.6) rotate(-51.5)" text-anchor="end">0.125</text>
<text transform="translate(1893.2,2262.6) rotate(-51.5)" text-anchor="end">2.5</text>
<text transform="translate(1938.4,2262.6) rotate(-51.5)" text-anchor="end">0.5</text>
<text transform="translate(1984.5,2262.9) rotate(-51.5)" text-anchor="end">1</text>
<text x="1790.3" y="2094.1" text-anchor="middle">CAS + BRI [10 µM]</text>
<text x="1793.5" y="2331.4" text-anchor="middle">CAS [µg/mL]</text>
<text transform="translate(1536.6,2178.0) rotate(-90)" text-anchor="middle" font-weight="bold">Survival (%)</text>
</g>
<g id="headers">
<text x="15.2" y="33.2" font-weight="bold" style="font-size:27.5px">a.</text>
<text x="1002.3" y="33.2" font-weight="bold" style="font-size:27.5px">b.</text>
<text x="15.5" y="729.3" font-weight="bold" style="font-size:27.5px">c.</text>
<text x="1002.3" y="729.3" font-weight="bold" style="font-size:27.5px">d.</text>
<text x="313.0" y="20.3" font-weight="bold" font-style="italic" style="font-size:27.6px">Cryptococcus neoformans</text>
<text x="1349.1" y="20.3" font-weight="bold" font-style="italic" style="font-size:27.6px">Candida albicans</text>
<text x="235.1" y="757.4" font-weight="bold" font-style="italic" style="font-size:27.6px">Candida albicans <tspan font-style="normal">CAS</tspan><tspan font-style="normal" font-size="16.5" dy="-9.5">R</tspan></text>
<text x="1394.1" y="757.4" font-weight="bold" font-style="italic" style="font-size:27.6px">Candida auris</text>
<text x="392.8" y="923.8" text-anchor="middle" font-weight="bold">Metabolic activity (XTT)</text>
<text x="1483.1" y="798.2" text-anchor="middle" font-weight="bold">Metabolic activity (XTT)</text>
<text x="1488.2" y="837.7" text-anchor="middle">CAS [0.125µg/mL + BRI [10µM]</text>
<text x="713.1" y="1718.2">* <tspan font-style="italic">p</tspan> &lt; 0.05</text>
<text x="713.1" y="1742.2">**** <tspan font-style="italic">p</tspan> &lt; 0.0001</text>
<text x="1857.5" y="1704.1">**** <tspan font-style="italic">p</tspan> &lt; 0.0001</text>
</g>
<g id="legends">
<rect x="570.85" y="771.05" width="34" height="34" fill="#c7c8ca" stroke="#231f20" stroke-width="3.7"/>
<text x="782.0" y="796.0" text-anchor="middle">DPL1006 (CAS 0.5µg/mL + BRI 5µM</text>
<rect x="1836.85" y="771.05" width="34" height="34" fill="#c7c8ca" stroke="#231f20" stroke-width="3.7"/>
<text x="1878.0" y="795.2">467/2015</text>
<rect x="570.85" y="819.55" width="34" height="34" fill="#ffffff" stroke="#231f20" stroke-width="3.7"/>
<text x="782.0" y="844.0" text-anchor="middle">DPL1007 (CAS 0.5µg/mL + BRI 20µM</text>
<rect x="1836.85" y="819.55" width="34" height="34" fill="#ffffff" stroke="#231f20" stroke-width="3.7"/>
<text x="1878.0" y="843.2">468/2015</text>
<rect x="570.85" y="867.95" width="34" height="34" fill="#a1a2a5" stroke="#231f20" stroke-width="3.7"/>
<text x="782.0" y="891.6" text-anchor="middle">DPL1008 (CAS 0.5µg/mL + BRI 5µM</text>
<rect x="1836.85" y="867.95" width="34" height="34" fill="#a1a2a5" stroke="#231f20" stroke-width="3.7"/>
<text x="1878.0" y="890.8">469/2015</text>
<rect x="570.85" y="916.65" width="34" height="34" fill="#6d6e71" stroke="#231f20" stroke-width="3.7"/>
<text x="782.0" y="939.2" text-anchor="middle">DPL1010 (CAS 0.5µg/mL + BRI 20µM</text>
<rect x="1836.85" y="916.65" width="34" height="34" fill="#6d6e71" stroke="#231f20" stroke-width="3.7"/>
<text x="1878.0" y="938.4">470/2015</text>
<rect x="570.85" y="965.05" width="34" height="34" fill="#231f20" stroke="#231f20" stroke-width="3.7"/>
<text x="782.0" y="986.7" text-anchor="middle">DPL1011 (CAS 0.5µg/mL + BRI 10µM</text>
<rect x="1838.85" y="965.05" width="34" height="34" fill="#231f20" stroke="#231f20" stroke-width="3.7"/>
<text x="1878.0" y="985.9">474/2015</text>
</g>
<g id="barc">
<rect x="93.7" y="1126.6" width="22.2" height="452.4" fill="#ffffff" stroke="#3a3a3c" stroke-width="1.2"/>
<rect x="129.2" y="1289.4" width="22.2" height="289.6" fill="#ffffff" stroke="#3a3a3c" stroke-width="1.2"/>
<rect x="164.7" y="1303.4" width="22.2" height="275.6" fill="#ffffff" stroke="#3a3a3c" stroke-width="1.2"/>
<rect x="200.2" y="1513.1" width="22.2" height="65.9" fill="#ffffff" stroke="#3a3a3c" stroke-width="1.2"/>
<rect x="259.9" y="1126.6" width="22.2" height="452.4" fill="#d5d6d8" stroke="#4a4a4c" stroke-width="1.2"/>
<rect x="295.4" y="1144.4" width="22.2" height="434.6" fill="#d5d6d8" stroke="#4a4a4c" stroke-width="1.2"/>
<rect x="330.9" y="1209.7" width="22.2" height="369.3" fill="#d5d6d8" stroke="#4a4a4c" stroke-width="1.2"/>
<rect x="366.4" y="1514.7" width="22.2" height="64.3" fill="#d5d6d8" stroke="#4a4a4c" stroke-width="1.2"/>
<rect x="426.2" y="1126.6" width="22.2" height="452.4" fill="#aeafb2" stroke="#4d4d4f" stroke-width="1.2"/>
<rect x="461.7" y="1133.9" width="22.2" height="445.1" fill="#aeafb2" stroke="#4d4d4f" stroke-width="1.2"/>
<rect x="497.2" y="1170.3" width="22.2" height="408.7" fill="#aeafb2" stroke="#4d4d4f" stroke-width="1.2"/>
<rect x="532.7" y="1309.1" width="22.2" height="269.9" fill="#aeafb2" stroke="#4d4d4f" stroke-width="1.2"/>
<rect x="592.4" y="1126.6" width="22.2" height="452.4" fill="#808285" stroke="#4a4a4c" stroke-width="1.2"/>
<rect x="627.9" y="1134.2" width="22.2" height="444.8" fill="#808285" stroke="#4a4a4c" stroke-width="1.2"/>
<rect x="663.4" y="1137.9" width="22.2" height="441.1" fill="#808285" stroke="#4a4a4c" stroke-width="1.2"/>
<rect x="698.9" y="1533.6" width="22.2" height="45.4" fill="#808285" stroke="#4a4a4c" stroke-width="1.2"/>
<rect x="758.7" y="1126.6" width="22.2" height="452.4" fill="#231f20" stroke="#231f20" stroke-width="1.2"/>
<rect x="794.2" y="1142.1" width="22.2" height="436.9" fill="#231f20" stroke="#231f20" stroke-width="1.2"/>
<rect x="829.7" y="1222.3" width="22.2" height="356.7" fill="#231f20" stroke="#231f20" stroke-width="1.2"/>
<rect x="865.2" y="1316.1" width="22.2" height="262.9" fill="#231f20" stroke="#231f20" stroke-width="1.2"/>
<path class="bax" d="M81.1 1126.1V1579.0M71.8 1579.0H900.7M71.6 1488.4H81.1M71.6 1397.8H81.1M71.6 1307.3H81.1M71.6 1216.7H81.1M71.6 1126.1H81.1M104.8 1579.0v9.3M140.3 1579.0v9.3M175.8 1579.0v9.3M211.3 1579.0v9.3M271.1 1579.0v9.3M306.6 1579.0v9.3M342.1 1579.0v9.3M377.6 1579.0v9.3M437.3 1579.0v9.3M472.8 1579.0v9.3M508.3 1579.0v9.3M543.8 1579.0v9.3M603.5 1579.0v9.3M639.0 1579.0v9.3M674.5 1579.0v9.3M710.0 1579.0v9.3M769.8 1579.0v9.3M805.3 1579.0v9.3M840.8 1579.0v9.3M876.3 1579.0v9.3"/>
<circle cx="104.8" cy="1126.1" r="1.45"/>
<path class="beb" d="M140.3 1284.9V1291.7M134.3 1284.9h12M134.3 1291.7h12"/>
<circle cx="140.3" cy="1283.8" r="1.45"/>
<circle cx="140.3" cy="1287.2" r="1.45"/>
<circle cx="140.3" cy="1290.0" r="1.45"/>
<circle cx="140.3" cy="1292.8" r="1.45"/>
<path class="beb" d="M175.8 1280.4V1325.2M169.8 1280.4h12M169.8 1325.2h12"/>
<circle cx="175.8" cy="1280.4" r="1.45"/>
<circle cx="175.8" cy="1284.3" r="1.45"/>
<circle cx="175.8" cy="1288.6" r="1.45"/>
<circle cx="175.8" cy="1325.2" r="1.45"/>
<circle cx="175.8" cy="1326.6" r="1.45"/>
<path class="beb" d="M211.3 1504.7V1519.0M205.3 1504.7h12M205.3 1519.0h12"/>
<circle cx="211.3" cy="1504.7" r="1.45"/>
<circle cx="211.3" cy="1511.1" r="1.45"/>
<circle cx="211.3" cy="1528.3" r="1.45"/>
<circle cx="271.1" cy="1126.1" r="1.45"/>
<path class="beb" d="M306.6 1139.4V1147.2M300.6 1139.4h12M300.6 1147.2h12"/>
<circle cx="306.6" cy="1138.0" r="1.45"/>
<circle cx="306.6" cy="1142.2" r="1.45"/>
<circle cx="306.6" cy="1145.0" r="1.45"/>
<circle cx="306.6" cy="1147.8" r="1.45"/>
<path class="beb" d="M342.1 1166.7V1250.8M336.1 1166.7h12M336.1 1250.8h12"/>
<circle cx="342.1" cy="1168.9" r="1.45"/>
<circle cx="342.1" cy="1175.1" r="1.45"/>
<circle cx="342.1" cy="1179.6" r="1.45"/>
<circle cx="342.1" cy="1243.8" r="1.45"/>
<circle cx="342.1" cy="1256.8" r="1.45"/>
<circle cx="342.1" cy="1261.8" r="1.45"/>
<path class="beb" d="M377.6 1511.1V1515.7M371.6 1511.1h12M371.6 1515.7h12"/>
<circle cx="377.6" cy="1511.1" r="1.45"/>
<circle cx="377.6" cy="1514.5" r="1.45"/>
<circle cx="437.3" cy="1126.1" r="1.45"/>
<path class="beb" d="M472.8 1128.9V1138.0M466.8 1128.9h12M466.8 1138.0h12"/>
<circle cx="472.8" cy="1125.8" r="1.45"/>
<circle cx="472.8" cy="1132.3" r="1.45"/>
<circle cx="472.8" cy="1135.1" r="1.45"/>
<circle cx="472.8" cy="1138.8" r="1.45"/>
<path class="beb" d="M508.3 1134.9V1204.1M502.3 1134.9h12M502.3 1204.1h12"/>
<circle cx="508.3" cy="1128.1" r="1.45"/>
<circle cx="508.3" cy="1161.9" r="1.45"/>
<circle cx="508.3" cy="1170.3" r="1.45"/>
<circle cx="508.3" cy="1184.4" r="1.45"/>
<circle cx="508.3" cy="1193.7" r="1.45"/>
<circle cx="508.3" cy="1212.6" r="1.45"/>
<circle cx="508.3" cy="1214.5" r="1.45"/>
<path class="beb" d="M543.8 1290.5V1325.7M537.8 1290.5h12M537.8 1325.7h12"/>
<circle cx="543.8" cy="1282.9" r="1.45"/>
<circle cx="543.8" cy="1288.6" r="1.45"/>
<circle cx="543.8" cy="1303.5" r="1.45"/>
<circle cx="543.8" cy="1311.1" r="1.45"/>
<circle cx="543.8" cy="1315.3" r="1.45"/>
<circle cx="543.8" cy="1323.8" r="1.45"/>
<circle cx="543.8" cy="1328.5" r="1.45"/>
<circle cx="603.5" cy="1126.1" r="1.45"/>
<path class="beb" d="M639.0 1125.8V1144.4M633.0 1144.4h12"/>
<circle cx="639.0" cy="1125.8" r="1.45"/>
<circle cx="639.0" cy="1128.1" r="1.45"/>
<circle cx="639.0" cy="1130.9" r="1.45"/>
<circle cx="639.0" cy="1138.0" r="1.45"/>
<circle cx="639.0" cy="1156.8" r="1.45"/>
<path class="beb" d="M674.5 1128.1V1155.1M668.5 1155.1h12"/>
<circle cx="674.5" cy="1128.1" r="1.45"/>
<circle cx="674.5" cy="1130.9" r="1.45"/>
<circle cx="674.5" cy="1138.0" r="1.45"/>
<circle cx="674.5" cy="1146.4" r="1.45"/>
<circle cx="674.5" cy="1152.0" r="1.45"/>
<circle cx="674.5" cy="1173.7" r="1.45"/>
<path class="beb" d="M710.0 1524.7V1540.7M704.0 1524.7h12M704.0 1540.7h12"/>
<circle cx="710.0" cy="1519.9" r="1.45"/>
<circle cx="710.0" cy="1525.2" r="1.45"/>
<circle cx="710.0" cy="1530.9" r="1.45"/>
<circle cx="710.0" cy="1536.5" r="1.45"/>
<circle cx="710.0" cy="1540.7" r="1.45"/>
<circle cx="710.0" cy="1543.5" r="1.45"/>
<circle cx="769.8" cy="1126.1" r="1.45"/>
<path class="beb" d="M805.3 1126.0V1141.6"/>
<circle cx="805.3" cy="1125.8" r="1.45"/>
<circle cx="805.3" cy="1129.5" r="1.45"/>
<circle cx="805.3" cy="1133.7" r="1.45"/>
<circle cx="805.3" cy="1138.0" r="1.45"/>
<circle cx="805.3" cy="1140.8" r="1.45"/>
<path class="beb" d="M840.8 1186.4V1221.8M834.8 1186.4h12"/>
<circle cx="840.8" cy="1168.4" r="1.45"/>
<circle cx="840.8" cy="1191.4" r="1.45"/>
<circle cx="840.8" cy="1204.1" r="1.45"/>
<circle cx="840.8" cy="1209.7" r="1.45"/>
<circle cx="840.8" cy="1219.0" r="1.45"/>
<path class="beb" d="M876.3 1263.2V1315.6M870.3 1263.2h12"/>
<circle cx="876.3" cy="1263.2" r="1.45"/>
<circle cx="876.3" cy="1268.9" r="1.45"/>
<circle cx="876.3" cy="1287.7" r="1.45"/>
<circle cx="876.3" cy="1309.1" r="1.45"/>
<path class="br" d="M140.3 1269.4V1064.2H211.3V1066.8M175.8 1266.0V1098.3H211.3V1489.2"/>
<text x="180.6" y="1060.9" text-anchor="middle" class="st">****</text>
<text x="192.6" y="1095.0" text-anchor="middle" class="st">****</text>
<path class="br" d="M306.6 1123.0V1064.2H377.6V1066.8M342.1 1153.4V1098.3H377.6V1496.5"/>
<text x="342.0" y="1060.9" text-anchor="middle" class="st">****</text>
<text x="360.4" y="1095.0" text-anchor="middle" class="st">****</text>
<path class="br" d="M472.8 1112.0V1064.2H543.8V1066.8M508.3 1112.0V1098.3H543.8V1269.4"/>
<text x="507.7" y="1060.9" text-anchor="middle" class="st">****</text>
<text x="526.0" y="1095.0" text-anchor="middle" class="st">****</text>
<path class="br" d="M639.0 1112.0V1064.2H710.0V1066.8M674.5 1112.0V1098.3H710.0V1506.4"/>
<text x="669.6" y="1060.9" text-anchor="middle" class="st">****</text>
<text x="688.3" y="1095.0" text-anchor="middle" class="st">****</text>
<path class="br" d="M805.3 1112.0V1064.2H876.3V1066.8M840.8 1154.0V1098.3H876.3V1249.2"/>
<text x="839.5" y="1060.9" text-anchor="middle" class="st">****</text>
<text x="852.2" y="1095.0" text-anchor="middle" class="st">*</text>
<text x="68.3" y="1586.0" text-anchor="end" font-weight="bold" style="font-size:19.3px">0</text>
<text x="68.3" y="1495.4" text-anchor="end" font-weight="bold" style="font-size:19.3px">20</text>
<text x="68.3" y="1404.8" text-anchor="end" font-weight="bold" style="font-size:19.3px">40</text>
<text x="68.3" y="1314.3" text-anchor="end" font-weight="bold" style="font-size:19.3px">60</text>
<text x="68.3" y="1223.7" text-anchor="end" font-weight="bold" style="font-size:19.3px">80</text>
<text x="68.3" y="1133.1" text-anchor="end" font-weight="bold" style="font-size:19.3px">100</text>
<text transform="translate(108.3,1605.0) rotate(-51.5)" text-anchor="end">ctrl</text>
<text transform="translate(143.8,1605.0) rotate(-51.5)" text-anchor="end">CAS</text>
<text transform="translate(179.3,1605.0) rotate(-51.5)" text-anchor="end">BRI</text>
<text transform="translate(216.2,1605.0) rotate(-51.5)" text-anchor="end">CAS + BRI</text>
<text transform="translate(277.4,1605.0) rotate(-51.5)" text-anchor="end">ctrl</text>
<text transform="translate(312.9,1605.0) rotate(-51.5)" text-anchor="end">CAS</text>
<text transform="translate(349.1,1605.0) rotate(-51.5)" text-anchor="end">BRI</text>
<text transform="translate(385.1,1605.0) rotate(-51.5)" text-anchor="end">CAS + BRI</text>
<text transform="translate(436.6,1605.0) rotate(-51.5)" text-anchor="end">ctrl</text>
<text transform="translate(471.8,1605.0) rotate(-51.5)" text-anchor="end">CAS</text>
<text transform="translate(507.8,1605.0) rotate(-51.5)" text-anchor="end">BRI</text>
<text transform="translate(544.5,1605.0) rotate(-51.5)" text-anchor="end">CAS + BRI</text>
<text transform="translate(607.0,1605.0) rotate(-51.5)" text-anchor="end">ctrl</text>
<text transform="translate(642.5,1605.0) rotate(-51.5)" text-anchor="end">CAS</text>
<text transform="translate(678.0,1605.0) rotate(-51.5)" text-anchor="end">BRI</text>
<text transform="translate(714.9,1605.0) rotate(-51.5)" text-anchor="end">CAS + BRI</text>
<text transform="translate(766.3,1605.0) rotate(-51.5)" text-anchor="end">ctrl</text>
<text transform="translate(801.3,1605.0) rotate(-51.5)" text-anchor="end">CAS</text>
<text transform="translate(837.3,1605.0) rotate(-51.5)" text-anchor="end">BRI</text>
<text transform="translate(874.2,1605.0) rotate(-51.5)" text-anchor="end">CAS + BRI</text>
<text transform="translate(22.7,1343.0) rotate(-90)" text-anchor="middle" font-weight="bold">Metabolic activity (%)</text>
</g>
<g id="bard">
<rect x="1130.8" y="1113.1" width="22.6" height="463.0" fill="#ffffff" stroke="#3a3a3c" stroke-width="1.2"/>
<rect x="1166.8" y="1400.7" width="22.6" height="175.4" fill="#ffffff" stroke="#3a3a3c" stroke-width="1.2"/>
<rect x="1202.8" y="1269.9" width="22.6" height="306.2" fill="#ffffff" stroke="#3a3a3c" stroke-width="1.2"/>
<rect x="1238.8" y="1544.6" width="22.6" height="31.5" fill="#ffffff" stroke="#3a3a3c" stroke-width="1.2"/>
<rect x="1298.9" y="1113.1" width="22.6" height="463.0" fill="#d5d6d8" stroke="#4a4a4c" stroke-width="1.2"/>
<rect x="1334.9" y="1408.9" width="22.6" height="167.2" fill="#d5d6d8" stroke="#4a4a4c" stroke-width="1.2"/>
<rect x="1370.9" y="1335.7" width="22.6" height="240.4" fill="#d5d6d8" stroke="#4a4a4c" stroke-width="1.2"/>
<rect x="1406.9" y="1544.9" width="22.6" height="31.2" fill="#d5d6d8" stroke="#4a4a4c" stroke-width="1.2"/>
<rect x="1466.9" y="1113.1" width="22.6" height="463.0" fill="#aeafb2" stroke="#4d4d4f" stroke-width="1.2"/>
<rect x="1502.9" y="1436.2" width="22.6" height="139.9" fill="#aeafb2" stroke="#4d4d4f" stroke-width="1.2"/>
<rect x="1538.9" y="1198.4" width="22.6" height="377.7" fill="#aeafb2" stroke="#4d4d4f" stroke-width="1.2"/>
<rect x="1574.9" y="1545.2" width="22.6" height="30.9" fill="#aeafb2" stroke="#4d4d4f" stroke-width="1.2"/>
<rect x="1635.0" y="1113.1" width="22.6" height="463.0" fill="#808285" stroke="#4a4a4c" stroke-width="1.2"/>
<rect x="1671.0" y="1429.4" width="22.6" height="146.7" fill="#808285" stroke="#4a4a4c" stroke-width="1.2"/>
<rect x="1707.0" y="1242.1" width="22.6" height="334.0" fill="#808285" stroke="#4a4a4c" stroke-width="1.2"/>
<rect x="1743.0" y="1545.2" width="22.6" height="30.9" fill="#808285" stroke="#4a4a4c" stroke-width="1.2"/>
<rect x="1803.1" y="1113.1" width="22.6" height="463.0" fill="#231f20" stroke="#231f20" stroke-width="1.2"/>
<rect x="1839.1" y="1396.2" width="22.6" height="179.9" fill="#231f20" stroke="#231f20" stroke-width="1.2"/>
<rect x="1875.1" y="1276.4" width="22.6" height="299.7" fill="#231f20" stroke="#231f20" stroke-width="1.2"/>
<rect x="1911.1" y="1544.3" width="22.6" height="31.8" fill="#231f20" stroke="#231f20" stroke-width="1.2"/>
<path class="bax" d="M1118.2 1112.6V1576.1M1108.4 1576.1H1946.2M1108.7 1483.4H1118.2M1108.7 1390.7H1118.2M1108.7 1298.0H1118.2M1108.7 1205.3H1118.2M1108.7 1112.6H1118.2M1142.1 1576.1v9.3M1178.1 1576.1v9.3M1214.1 1576.1v9.3M1250.1 1576.1v9.3M1310.2 1576.1v9.3M1346.2 1576.1v9.3M1382.2 1576.1v9.3M1418.2 1576.1v9.3M1478.2 1576.1v9.3M1514.2 1576.1v9.3M1550.2 1576.1v9.3M1586.2 1576.1v9.3M1646.3 1576.1v9.3M1682.3 1576.1v9.3M1718.3 1576.1v9.3M1754.3 1576.1v9.3M1814.4 1576.1v9.3M1850.4 1576.1v9.3M1886.4 1576.1v9.3M1922.4 1576.1v9.3"/>
<circle cx="1142.1" cy="1112.6" r="1.45"/>
<path class="beb" d="M1178.1 1378.5V1421.1M1172.1 1378.5h12M1172.1 1421.1h12"/>
<circle cx="1178.1" cy="1373.2" r="1.45"/>
<circle cx="1178.1" cy="1393.5" r="1.45"/>
<circle cx="1178.1" cy="1412.6" r="1.45"/>
<circle cx="1178.1" cy="1416.8" r="1.45"/>
<circle cx="1178.1" cy="1435.1" r="1.45"/>
<path class="beb" d="M1214.1 1253.1V1284.6M1208.1 1253.1h12M1208.1 1284.6h12"/>
<circle cx="1214.1" cy="1245.8" r="1.45"/>
<circle cx="1214.1" cy="1248.3" r="1.45"/>
<circle cx="1214.1" cy="1270.3" r="1.45"/>
<circle cx="1214.1" cy="1277.3" r="1.45"/>
<circle cx="1214.1" cy="1287.2" r="1.45"/>
<path class="beb" d="M1250.1 1540.7V1547.2M1244.1 1540.7h12M1244.1 1547.2h12"/>
<circle cx="1250.1" cy="1539.3" r="1.45"/>
<circle cx="1250.1" cy="1542.7" r="1.45"/>
<circle cx="1250.1" cy="1544.9" r="1.45"/>
<circle cx="1250.1" cy="1547.2" r="1.45"/>
<circle cx="1310.2" cy="1112.6" r="1.45"/>
<path class="beb" d="M1346.2 1397.7V1419.1M1340.2 1397.7h12M1340.2 1419.1h12"/>
<circle cx="1346.2" cy="1394.3" r="1.45"/>
<circle cx="1346.2" cy="1398.5" r="1.45"/>
<circle cx="1346.2" cy="1404.2" r="1.45"/>
<circle cx="1346.2" cy="1412.6" r="1.45"/>
<circle cx="1346.2" cy="1427.3" r="1.45"/>
<path class="beb" d="M1382.2 1318.9V1350.7M1376.2 1318.9h12M1376.2 1350.7h12"/>
<circle cx="1382.2" cy="1304.2" r="1.45"/>
<circle cx="1382.2" cy="1321.1" r="1.45"/>
<circle cx="1382.2" cy="1325.3" r="1.45"/>
<circle cx="1382.2" cy="1338.0" r="1.45"/>
<circle cx="1382.2" cy="1346.5" r="1.45"/>
<circle cx="1382.2" cy="1356.3" r="1.45"/>
<path class="beb" d="M1418.2 1541.3V1545.5M1412.2 1541.3h12M1412.2 1545.5h12"/>
<circle cx="1418.2" cy="1540.7" r="1.45"/>
<circle cx="1418.2" cy="1543.5" r="1.45"/>
<circle cx="1418.2" cy="1546.3" r="1.45"/>
<circle cx="1478.2" cy="1112.6" r="1.45"/>
<path class="beb" d="M1514.2 1422.2V1448.4M1508.2 1422.2h12M1508.2 1448.4h12"/>
<circle cx="1514.2" cy="1410.6" r="1.45"/>
<circle cx="1514.2" cy="1423.9" r="1.45"/>
<circle cx="1514.2" cy="1435.1" r="1.45"/>
<circle cx="1514.2" cy="1439.4" r="1.45"/>
<circle cx="1514.2" cy="1446.4" r="1.45"/>
<path class="beb" d="M1550.2 1176.0V1219.0M1544.2 1176.0h12M1544.2 1219.0h12"/>
<circle cx="1550.2" cy="1180.2" r="1.45"/>
<circle cx="1550.2" cy="1184.4" r="1.45"/>
<circle cx="1550.2" cy="1195.1" r="1.45"/>
<circle cx="1550.2" cy="1214.0" r="1.45"/>
<circle cx="1550.2" cy="1228.0" r="1.45"/>
<circle cx="1550.2" cy="1233.1" r="1.45"/>
<path class="beb" d="M1586.2 1541.3V1546.0M1580.2 1541.3h12M1580.2 1546.0h12"/>
<circle cx="1586.2" cy="1539.9" r="1.45"/>
<circle cx="1586.2" cy="1543.5" r="1.45"/>
<circle cx="1586.2" cy="1547.2" r="1.45"/>
<circle cx="1646.3" cy="1112.6" r="1.45"/>
<path class="beb" d="M1682.3 1419.7V1438.0M1676.3 1419.7h12M1676.3 1438.0h12"/>
<circle cx="1682.3" cy="1412.0" r="1.45"/>
<circle cx="1682.3" cy="1421.1" r="1.45"/>
<circle cx="1682.3" cy="1429.5" r="1.45"/>
<circle cx="1682.3" cy="1433.7" r="1.45"/>
<circle cx="1682.3" cy="1439.4" r="1.45"/>
<path class="beb" d="M1718.3 1213.1V1269.4M1712.3 1213.1h12M1712.3 1269.4h12"/>
<circle cx="1718.3" cy="1205.5" r="1.45"/>
<circle cx="1718.3" cy="1213.1" r="1.45"/>
<circle cx="1718.3" cy="1215.4" r="1.45"/>
<circle cx="1718.3" cy="1219.6" r="1.45"/>
<circle cx="1718.3" cy="1247.2" r="1.45"/>
<circle cx="1718.3" cy="1255.6" r="1.45"/>
<circle cx="1718.3" cy="1260.4" r="1.45"/>
<circle cx="1718.3" cy="1273.1" r="1.45"/>
<circle cx="1718.3" cy="1278.7" r="1.45"/>
<path class="beb" d="M1754.3 1539.3V1549.2M1748.3 1539.3h12M1748.3 1549.2h12"/>
<circle cx="1754.3" cy="1539.3" r="1.45"/>
<circle cx="1754.3" cy="1544.9" r="1.45"/>
<circle cx="1754.3" cy="1547.7" r="1.45"/>
<circle cx="1754.3" cy="1553.9" r="1.45"/>
<circle cx="1814.4" cy="1112.6" r="1.45"/>
<path class="beb" d="M1850.4 1384.5V1395.7M1844.4 1384.5h12"/>
<circle cx="1850.4" cy="1372.9" r="1.45"/>
<circle cx="1850.4" cy="1387.3" r="1.45"/>
<circle cx="1850.4" cy="1390.1" r="1.45"/>
<circle cx="1850.4" cy="1392.9" r="1.45"/>
<path class="beb" d="M1886.4 1241.3V1275.9M1880.4 1241.3h12"/>
<circle cx="1886.4" cy="1236.5" r="1.45"/>
<circle cx="1886.4" cy="1244.9" r="1.45"/>
<circle cx="1886.4" cy="1256.2" r="1.45"/>
<circle cx="1886.4" cy="1267.5" r="1.45"/>
<circle cx="1886.4" cy="1274.5" r="1.45"/>
<path class="beb" d="M1922.4 1539.0V1543.8M1916.4 1539.0h12"/>
<circle cx="1922.4" cy="1539.9" r="1.45"/>
<path class="br" d="M1178.1 1358.6V1033.2H1250.1V1047.3M1214.1 1231.4V1084.6H1250.1V1524.4"/>
<text x="1212.1" y="1028.9" text-anchor="middle" class="st">****</text>
<text x="1234.1" y="1084.6" text-anchor="middle" class="st">****</text>
<path class="br" d="M1346.2 1379.7V1033.2H1418.2V1047.3M1382.2 1290.0V1084.6H1418.2V1525.2"/>
<text x="1381.2" y="1028.9" text-anchor="middle" class="st">****</text>
<text x="1399.4" y="1084.6" text-anchor="middle" class="st">****</text>
<path class="br" d="M1514.2 1395.7V1033.2H1586.2V1047.3M1550.2 1161.3V1084.6H1586.2V1525.2"/>
<text x="1549.4" y="1028.9" text-anchor="middle" class="st">****</text>
<text x="1564.8" y="1084.6" text-anchor="middle" class="st">****</text>
<path class="br" d="M1682.3 1398.0V1033.2H1754.3V1047.3M1718.3 1190.9V1084.6H1754.3V1525.2"/>
<text x="1709.0" y="1028.9" text-anchor="middle" class="st">****</text>
<text x="1730.9" y="1084.6" text-anchor="middle" class="st">****</text>
<path class="br" d="M1850.4 1358.6V1033.2H1922.4V1047.3M1886.4 1222.4V1084.6H1922.4V1525.2"/>
<text x="1882.0" y="1028.9" text-anchor="middle" class="st">****</text>
<text x="1902.6" y="1084.6" text-anchor="middle" class="st">****</text>
<text x="1096.4" y="1577.2" text-anchor="end" font-weight="bold" style="font-size:19.3px">0</text>
<text x="1096.4" y="1486.5" text-anchor="end" font-weight="bold" style="font-size:19.3px">20</text>
<text x="1096.4" y="1395.9" text-anchor="end" font-weight="bold" style="font-size:19.3px">40</text>
<text x="1096.4" y="1305.7" text-anchor="end" font-weight="bold" style="font-size:19.3px">60</text>
<text x="1096.4" y="1214.8" text-anchor="end" font-weight="bold" style="font-size:19.3px">80</text>
<text x="1106.3" y="1113.8" text-anchor="end" font-weight="bold" style="font-size:19.3px">100</text>
<text transform="translate(1136.1,1598.1) rotate(-51.5)" text-anchor="end">ctrl</text>
<text transform="translate(1177.1,1598.1) rotate(-51.5)" text-anchor="end">CAS [0.125µg/mL]</text>
<text transform="translate(1213.3,1598.1) rotate(-51.5)" text-anchor="end">BRI [10µM]</text>
<text transform="translate(1254.1,1598.1) rotate(-51.5)" text-anchor="end">CAS + BRI</text>
<text transform="translate(1314.0,1598.1) rotate(-51.5)" text-anchor="end">ctrl</text>
<text transform="translate(1354.2,1598.1) rotate(-51.5)" text-anchor="end">CAS [0.125µg/mL]</text>
<text transform="translate(1391.2,1598.1) rotate(-51.5)" text-anchor="end">BRI [10µM]</text>
<text transform="translate(1431.2,1598.1) rotate(-51.5)" text-anchor="end">CAS + BRI</text>
<text transform="translate(1474.7,1598.1) rotate(-51.5)" text-anchor="end">ctrl</text>
<text transform="translate(1514.6,1598.1) rotate(-51.5)" text-anchor="end">CAS [0.125µg/mL]</text>
<text transform="translate(1552.2,1598.1) rotate(-51.5)" text-anchor="end">BRI [10µM]</text>
<text transform="translate(1592.4,1598.1) rotate(-51.5)" text-anchor="end">CAS + BRI</text>
<text transform="translate(1648.7,1598.1) rotate(-51.5)" text-anchor="end">ctrl</text>
<text transform="translate(1689.3,1598.1) rotate(-51.5)" text-anchor="end">CAS [0.125µg/mL]</text>
<text transform="translate(1725.3,1598.1) rotate(-51.5)" text-anchor="end">BRI [10µM]</text>
<text transform="translate(1764.7,1598.1) rotate(-51.5)" text-anchor="end">CAS + BRI</text>
<text transform="translate(1808.4,1598.1) rotate(-51.5)" text-anchor="end">ctrl</text>
<text transform="translate(1849.4,1598.1) rotate(-51.5)" text-anchor="end">CAS [0.125µg/mL]</text>
<text transform="translate(1887.0,1598.1) rotate(-51.5)" text-anchor="end">BRI [10µM]</text>
<text transform="translate(1925.8,1598.1) rotate(-51.5)" text-anchor="end">CAS + BRI</text>
<text transform="translate(1050.7,1300.2) rotate(-90)" text-anchor="middle" font-weight="bold">Metabolic activity (%)</text>
</g>
</svg>
</body>
</html>
